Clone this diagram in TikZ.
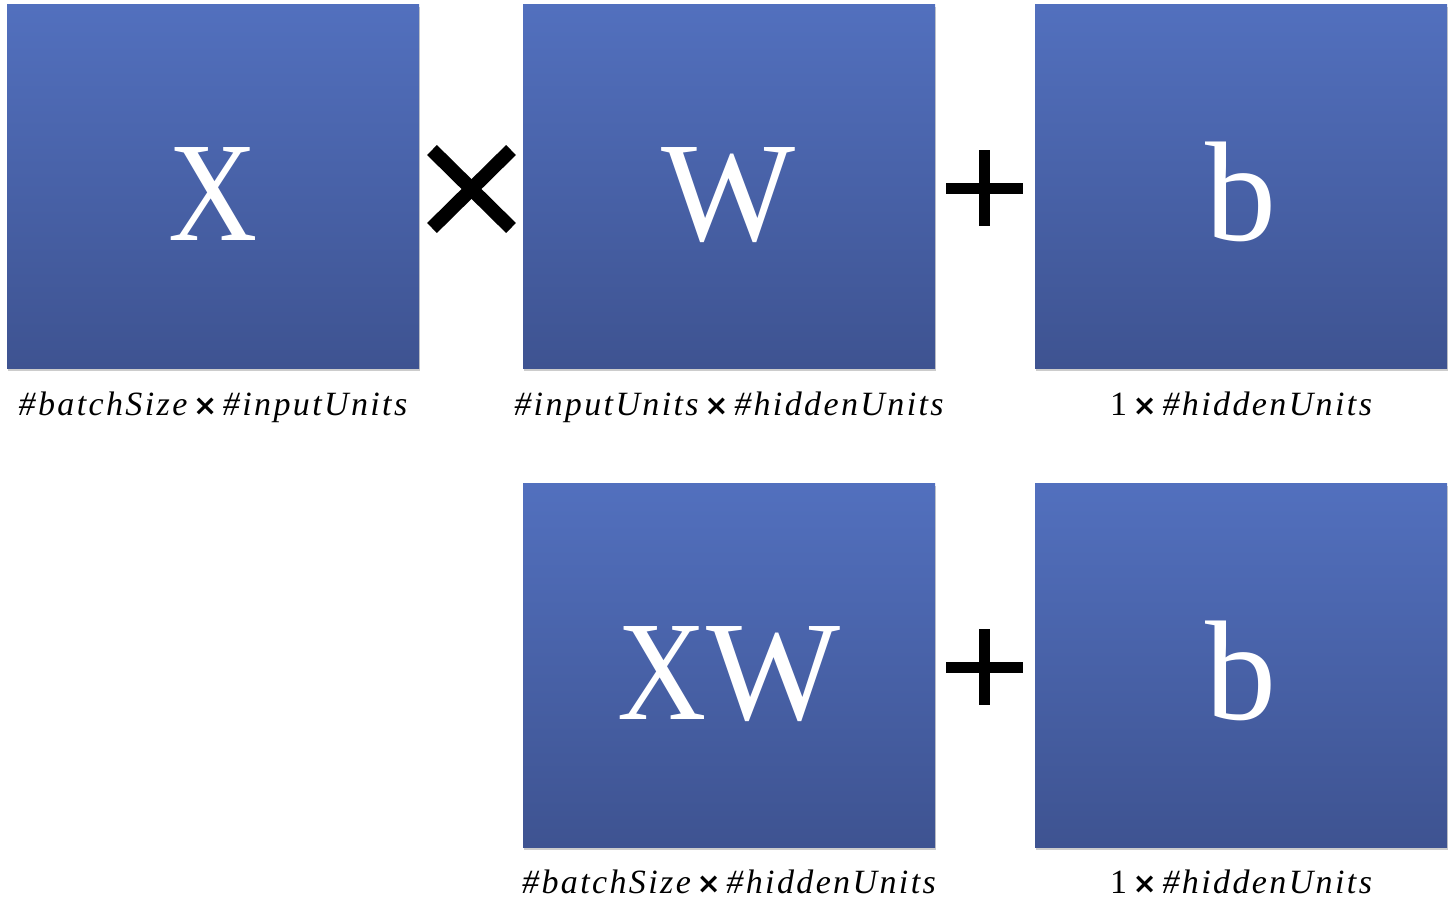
\documentclass[tikz,border=0pt]{standalone}
\usepackage{fontspec}
\setmainfont{Liberation Serif}
\newfontfamily\symfont{DejaVu Sans}
\newfontfamily\dimfont[LetterSpace=7]{Liberation Serif}
\definecolor{boxtop}{HTML}{5270BE}
\definecolor{boxbot}{HTML}{3E5391}
\newcommand{\dimtimes}{\,{\symfont\bfseries\scalebox{0.85}{×}}\,}

\begin{document}
\begin{tikzpicture}[x=0.5pt, y=-0.5pt]
  \tikzset{
    mat/.style={minimum width=206pt, minimum height=182pt, inner sep=0pt,
      top color=boxtop, bottom color=boxbot, draw=none},
    shade/.style={fill=black!20, minimum width=206pt, minimum height=182pt, inner sep=0pt},
    letter/.style={anchor=base, text=white, font=\fontsize{71}{80}\selectfont},
    dims/.style={anchor=base, font=\dimfont\fontsize{17}{20}\selectfont\itshape},
    oper/.style={line width=7pt},
  }
  \useasboundingbox (0,0) rectangle (1455,911);

  % top row: X times W plus b
  \node[shade] at (214,189) {};
  \node[shade] at (730,189) {};
  \node[shade] at (1242,189) {};
  \node[mat] (X)  at (213,186) {};
  \node[mat] (W)  at (729,186) {};
  \node[mat] (b1) at (1241,186) {};
  \node[letter] (lX)  at (213,240) {\scalebox{0.87}[1]{X}};
  \node[letter] (lW)  at (729,240) {W};
  \node[letter] (lb1) at (1241,240) {b};

  % bottom row: XW plus b
  \node[shade] at (730,668) {};
  \node[shade] at (1242,668) {};
  \node[mat] (XW) at (729,665) {};
  \node[mat] (b2) at (1241,665) {};
  \node[letter] (lXW) at (729,719) {\scalebox{0.87}[1]{X}W};
  \node[letter] (lb2) at (1241,719) {b};

  % operators
  \draw[oper] (432,150) -- (511,228);
  \draw[oper] (432,228) -- (511,150);
  \draw[line width=5.5pt] (946,188) -- (1023,188);
  \draw[line width=5.5pt] (984.5,150) -- (984.5,226);
  \draw[line width=5.5pt] (946,667) -- (1023,667);
  \draw[line width=5.5pt] (984.5,629) -- (984.5,705);

  % shapes of the matrices
  \node[dims] (dX)  at (213,415) {\#batchSize\dimtimes\#inputUnits};
  \node[dims] (dW)  at (729,415) {\#inputUnits\dimtimes\#hiddenUnits};
  \node[dims] (db1) at (1241,415) {\upshape 1\dimtimes\itshape\#hiddenUnits};
  \node[dims] (dXW) at (729,893) {\#batchSize\dimtimes\#hiddenUnits};
  \node[dims] (db2) at (1241,893) {\upshape 1\dimtimes\itshape\#hiddenUnits};
\end{tikzpicture}
\end{document}
